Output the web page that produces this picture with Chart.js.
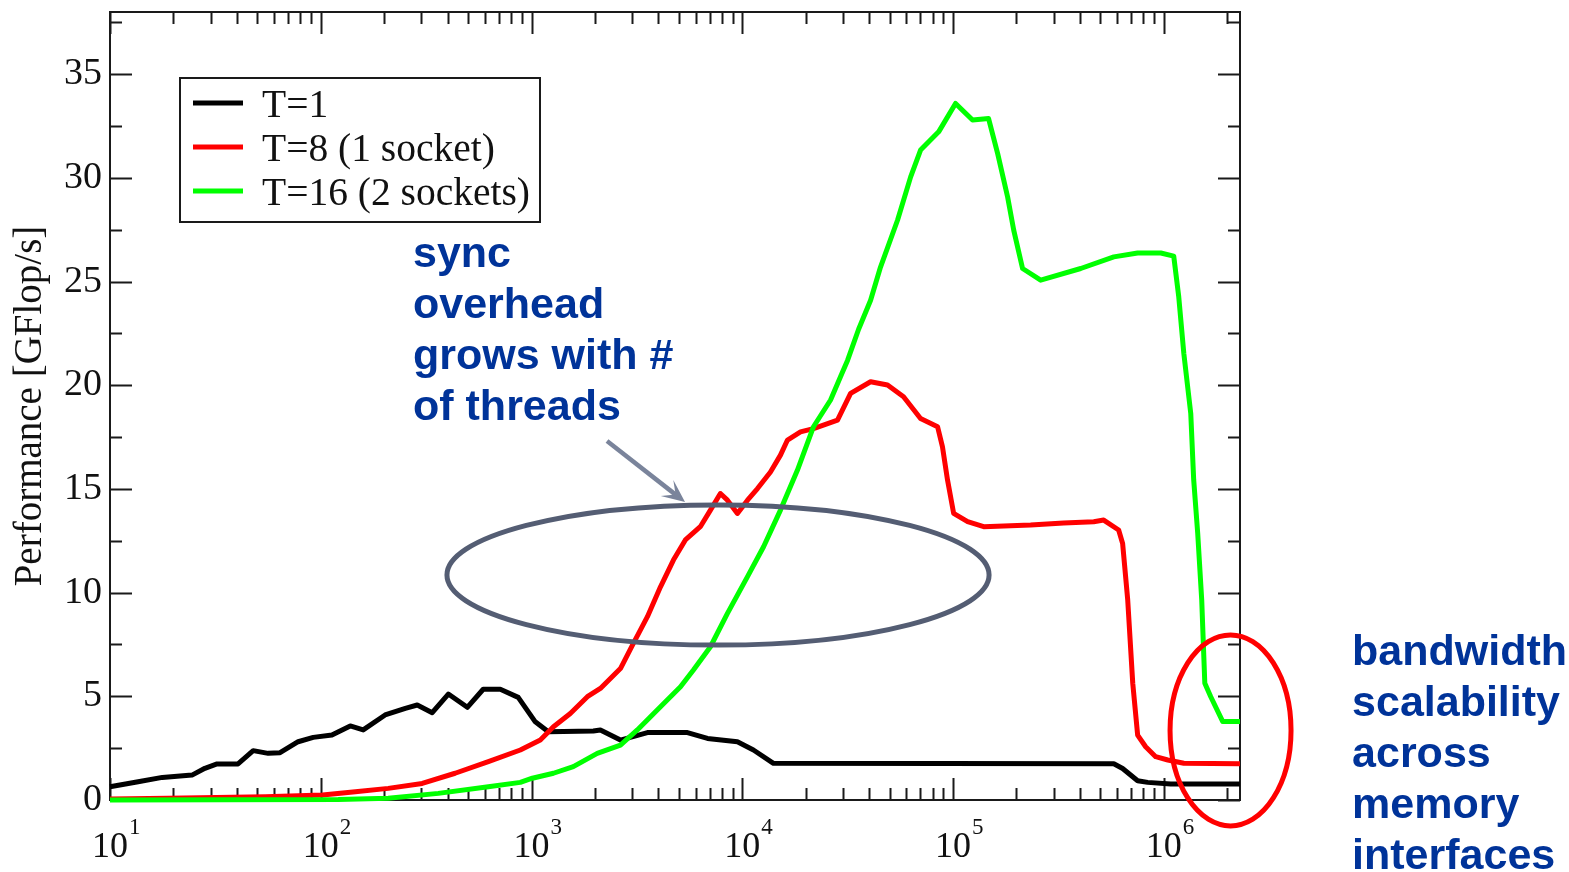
<!DOCTYPE html>
<html>
<head>
<meta charset="utf-8">
<title>Performance vs. loop length</title>
<script src="https://cdn.jsdelivr.net/npm/chart.js@4/dist/chart.umd.min.js"></script>
<style>
  html, body { margin: 0; padding: 0; background: #ffffff; }
  canvas { display: block; }
</style>
</head>
<body>
<canvas id="perf" width="1569" height="872"></canvas>
<script>
// ---- series ----
const seriesLabels = ['T=1', 'T=8 (1 socket)', 'T=16 (2 sockets)'];

const t1N    = [10, 13.6, 17.7, 24.5, 28.2, 32.2, 40.5, 47.8, 56.3, 64.1,
                78.1, 92.1, 113, 138, 159, 202, 252, 287, 338, 403,
                496, 590, 711, 865, 1042, 1202, 1965, 2122, 2642, 3548,
                5495, 6839, 9484, 11300, 14060, 579400, 638000, 751600, 839000, 1079000,
                2300000];
const t1Perf = [0.64, 0.88, 1.09, 1.20, 1.53, 1.74, 1.74, 2.38, 2.25, 2.28,
                2.81, 3.02, 3.13, 3.57, 3.38, 4.10, 4.42, 4.58, 4.21, 5.11,
                4.47, 5.34, 5.34, 4.95, 3.77, 3.29, 3.33, 3.38, 2.89, 3.25,
                3.25, 2.97, 2.81, 2.41, 1.77, 1.75, 1.52, 0.93, 0.85, 0.77,
                0.77];

const t8N    = [10, 18.8, 54.5, 102, 146, 209, 303, 434, 624, 885,
                1101, 1271, 1528, 1841, 2122, 2642, 3043, 3548, 4093, 4714,
                5370, 6324, 7063, 7874, 8506, 9484, 10590, 11810, 13610, 15180,
                16390, 18890, 21780, 28310, 32660, 40640, 48900, 58250, 70140, 84490,
                89130, 94190, 100700, 117300, 139800, 233500, 334900, 465300, 518800, 610900,
                638000, 674500, 712600, 751600, 820400, 915500, 1045000, 1245000, 2300000];
const t8Perf = [0.05, 0.08, 0.16, 0.24, 0.40, 0.56, 0.80, 1.29, 1.85, 2.41,
                2.89, 3.53, 4.17, 4.98, 5.38, 6.34, 7.55, 8.84, 10.28, 11.57,
                12.54, 13.18, 13.98, 14.78, 14.46, 13.82, 14.46, 15.02, 15.82, 16.63,
                17.36, 17.75, 17.91, 18.32, 19.61, 20.17, 20.01, 19.45, 18.40, 18.0,
                17.03, 15.43, 13.82, 13.42, 13.18, 13.26, 13.36, 13.42, 13.50, 13.02,
                12.37, 9.64, 5.63, 3.13, 2.57, 2.09, 1.93, 1.77, 1.75];

const t16N    = [10, 121, 209, 361, 624, 885, 1009, 1271, 1579, 2051,
                 2642, 3177, 4093, 5093, 5865, 7063, 8506, 10590, 12620, 15180,
                 18280, 21780, 26240, 29250, 31620, 35650, 40640, 45290, 54580, 62950,
                 70140, 85480, 102800, 123800, 147500, 162900, 181600, 194100, 213800, 260600,
                 403600, 579400, 751600, 968300, 1115000, 1178000, 1245000, 1343000, 1387000, 1449000,
                 1514000, 1566000, 1671000, 1905000, 2300000];
const t16Perf = [0.0, 0.02, 0.08, 0.32, 0.64, 0.85, 1.05, 1.29, 1.61, 2.25,
                 2.65, 3.38, 4.50, 5.46, 6.27, 7.39, 9.00, 10.77, 12.21, 13.98,
                 15.91, 18.0, 19.29, 20.41, 21.21, 22.7, 24.1, 25.7, 27.97, 30.05,
                 31.34, 32.22, 33.59, 32.79, 32.86, 31.17, 29.08, 27.48, 25.63, 25.07,
                 25.63, 26.19, 26.38, 26.38, 26.23, 24.26, 21.53, 18.64, 15.43, 12.86,
                 9.64, 5.63, 4.98, 3.78, 3.78];

// ---- axes ----
const yTickValues    = [0, 5, 10, 15, 20, 25, 30, 35];
const yMinorStep     = 2.5;
const xTickExponents = [1, 2, 3, 4, 5, 6];
const xMinorFactors  = [2, 3, 4, 5, 6, 7, 8, 9];
const yTitle = 'Performance [GFlop/s]';

// ---- callouts ----
const syncNote = ['sync', 'overhead', 'grows with #', 'of threads'];
const bandwidthNote = ['bandwidth', 'scalability', 'across', 'memory', 'interfaces'];

const SERIF = '"Liberation Serif", "Times New Roman", serif';
const SANS  = '"Liberation Sans", Arial, sans-serif';
const NOTE_BLUE = '#003399';

const toPoints = (xs, ys) => xs.map((x, i) => ({ x: x, y: ys[i] }));

// frame with inward ticks on all four sides, plus decade labels
const framePlugin = {
  id: 'frame',
  beforeDatasetsDraw(chart) {
    const { ctx, chartArea: a, scales: { x, y } } = chart;
    ctx.save();
    ctx.strokeStyle = '#1a1a1a';
    ctx.lineWidth = 2;
    ctx.strokeRect(a.left, a.top, a.right - a.left, a.bottom - a.top);

    ctx.beginPath();
    xTickExponents.forEach(e => {
      [1].concat(xMinorFactors).forEach(m => {
        const v = m * Math.pow(10, e);
        if (v < x.min || v > x.max) return;
        const px = Math.round(x.getPixelForValue(v)) + 0.5;
        const len = m === 1 ? 22 : 12;
        ctx.moveTo(px, a.bottom); ctx.lineTo(px, a.bottom - len);
        ctx.moveTo(px, a.top);    ctx.lineTo(px, a.top + len);
      });
    });
    for (let v = 0; v <= y.max + 1e-9; v += yMinorStep) {
      const py = Math.round(y.getPixelForValue(v)) + 0.5;
      const len = yTickValues.includes(v) ? 22 : 12;
      ctx.moveTo(a.left, py);  ctx.lineTo(a.left + len, py);
      ctx.moveTo(a.right, py); ctx.lineTo(a.right - len, py);
    }
    ctx.stroke();

    // decade labels: "10" with a raised exponent
    ctx.fillStyle = '#111';
    ctx.textBaseline = 'alphabetic';
    xTickExponents.forEach(e => {
      const px = x.getPixelForValue(Math.pow(10, e));
      ctx.font = '36px ' + SERIF;
      const w = ctx.measureText('10').width;
      ctx.textAlign = 'center';
      ctx.fillText('10', px, a.bottom + 57);
      ctx.font = '23px ' + SERIF;
      ctx.textAlign = 'left';
      ctx.fillText(String(e), px + w / 2 + 1, a.bottom + 34);
    });
    ctx.restore();
  },
  afterDraw(chart) {
    const { ctx, chartArea: a, scales: { x, y } } = chart;
    ctx.save();

    // legend box
    ctx.strokeStyle = '#1a1a1a';
    ctx.lineWidth = 2;
    ctx.strokeRect(a.left + 70, a.top + 66, 360, 144);
    chart.data.datasets.forEach((ds, i) => {
      const ly = a.top + 91 + i * 44;
      ctx.strokeStyle = ds.borderColor;
      ctx.lineWidth = 5;
      ctx.beginPath();
      ctx.moveTo(a.left + 83, ly);
      ctx.lineTo(a.left + 133, ly);
      ctx.stroke();
      ctx.fillStyle = '#111';
      ctx.font = '39.5px ' + SERIF;
      ctx.textAlign = 'left';
      ctx.textBaseline = 'alphabetic';
      ctx.fillText(ds.label, a.left + 152, ly + 13.5);
    });

    const ellipse = (x0, x1, y0, y1, color) => {
      const l = x.getPixelForValue(x0), r = x.getPixelForValue(x1);
      const t = y.getPixelForValue(y1), b = y.getPixelForValue(y0);
      ctx.beginPath();
      ctx.ellipse((l + r) / 2, (t + b) / 2, (r - l) / 2, (b - t) / 2, 0, 0, Math.PI * 2);
      ctx.strokeStyle = color;
      ctx.lineWidth = 5;
      ctx.stroke();
    };

    // synchronisation-overhead region and its pointer
    ellipse(397, 148300, 7.47, 14.23, '#545d73');
    const sx = x.getPixelForValue(2282), sy = y.getPixelForValue(17.31);
    const tx = x.getPixelForValue(5351), ty = y.getPixelForValue(14.37);
    const ang = Math.atan2(ty - sy, tx - sx);
    ctx.strokeStyle = '#7a849b';
    ctx.fillStyle = '#7a849b';
    ctx.lineWidth = 4.5;
    ctx.beginPath();
    ctx.moveTo(sx, sy);
    ctx.lineTo(tx - 10 * Math.cos(ang), ty - 10 * Math.sin(ang));
    ctx.stroke();
    const head = 25, spread = 0.42;
    ctx.beginPath();
    ctx.moveTo(tx, ty);
    ctx.lineTo(tx - head * Math.cos(ang - spread), ty - head * Math.sin(ang - spread));
    ctx.lineTo(tx - 12 * Math.cos(ang), ty - 12 * Math.sin(ang));
    ctx.lineTo(tx - head * Math.cos(ang + spread), ty - head * Math.sin(ang + spread));
    ctx.closePath();
    ctx.fill();

    // bandwidth-limited tail
    ellipse(1071000, 4017000, -1.25, 7.96, '#ff0000');

    // callout text
    ctx.fillStyle = NOTE_BLUE;
    ctx.font = 'bold 43px ' + SANS;
    ctx.textAlign = 'left';
    ctx.textBaseline = 'alphabetic';
    const nx = x.getPixelForValue(274), ny = y.getPixelForValue(25.72);
    syncNote.forEach((line, i) => ctx.fillText(line, nx, ny + i * 51));
    const bx = x.getPixelForValue(7823000), by = y.getPixelForValue(6.51);
    bandwidthNote.forEach((line, i) => ctx.fillText(line, bx, by + i * 51));

    ctx.restore();
  }
};

const lineStyle = { borderWidth: 5, pointRadius: 0, tension: 0, fill: false,
                    borderCapStyle: 'butt', borderJoinStyle: 'round', clip: false };

new Chart(document.getElementById('perf'), {
  type: 'line',
  data: {
    datasets: [
      Object.assign({ label: seriesLabels[0], data: toPoints(t1N, t1Perf),  borderColor: '#000000', order: 3 }, lineStyle),
      Object.assign({ label: seriesLabels[1], data: toPoints(t8N, t8Perf),  borderColor: '#ff0000', order: 2 }, lineStyle),
      Object.assign({ label: seriesLabels[2], data: toPoints(t16N, t16Perf), borderColor: '#00ff00', order: 1 }, lineStyle)
    ]
  },
  options: {
    responsive: false,
    animation: false,
    devicePixelRatio: 1,
    parsing: true,
    layout: { padding: { top: 12, right: 329, bottom: 0, left: 0 } },
    plugins: { legend: { display: false }, tooltip: { enabled: false } },
    scales: {
      x: {
        type: 'logarithmic',
        min: 10,
        max: 2300000,
        grid: { display: false, drawTicks: false },
        border: { display: false },
        ticks: { display: false },
        afterFit(s) { s.height = 72; s.paddingLeft = 0; s.paddingRight = 0; }
      },
      y: {
        type: 'linear',
        min: 0,
        max: 38,
        afterBuildTicks(s) { s.ticks = yTickValues.map(v => ({ value: v })); },
        grid: { display: false, drawTicks: false },
        border: { display: false },
        ticks: {
          font: { family: SERIF, size: 38 },
          color: '#111',
          padding: 8,
          callback: v => String(v)
        },
        title: {
          display: true,
          text: yTitle,
          font: { family: SERIF, size: 39 },
          color: '#111',
          padding: { top: 7, bottom: 0 }
        },
        afterFit(s) { s.width = 110; s.paddingTop = 0; s.paddingBottom = 0; }
      }
    }
  },
  plugins: [framePlugin]
});
</script>
</body>
</html>
